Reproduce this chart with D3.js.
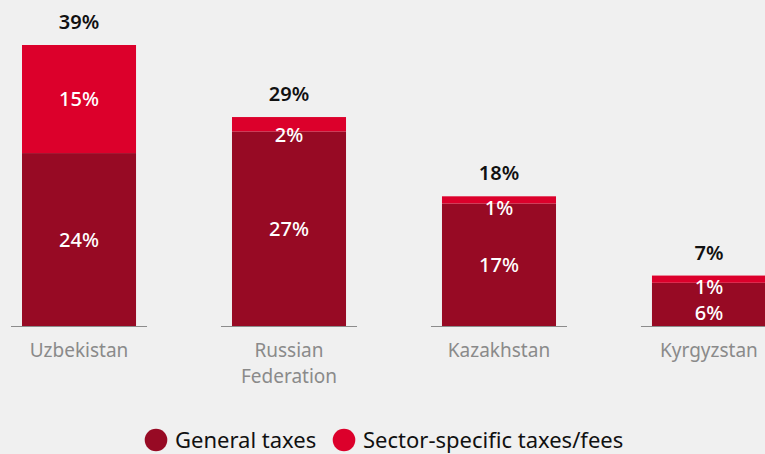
<!DOCTYPE html>
<html>
<head>
<meta charset="utf-8">
<script src="https://cdn.jsdelivr.net/npm/d3@7"></script>
<style>
  html, body { margin: 0; padding: 0; background: #f0f0f0; }
  svg { display: block; font-family: "Noto Sans", "Open Sans", sans-serif; }
</style>
</head>
<body>
<svg id="chart" width="765" height="454"></svg>
<script>
// Tax shares by country (percent)
const categories = ["Uzbekistan", "Russian Federation", "Kazakhstan", "Kyrgyzstan"];
const categoryLines = [["Uzbekistan"], ["Russian", "Federation"], ["Kazakhstan"], ["Kyrgyzstan"]];
const generalTaxes = [24, 27, 17, 6];
const sectorTaxes = [15, 2, 1, 1];
const totals = [39, 29, 18, 7];
const seriesNames = ["General taxes", "Sector-specific taxes/fees"];

const colors = { general: "#970a24", sector: "#dc002b" };

const svg = d3.select("#chart");
const baseY = 326;

const x = d3.scaleBand()
  .domain(categories)
  .range([-26, 814])
  .paddingInner(0.457)
  .paddingOuter(0.2286);

const y = d3.scaleLinear().domain([0, 39]).range([baseY, 45]);

const rows = categories.map((c, i) => ({
  cat: c, lines: categoryLines[i],
  general: generalTaxes[i], sector: sectorTaxes[i], total: totals[i]
}));

const stack = d3.stack().keys(["general", "sector"]);
const series = stack(rows);

const g = svg.append("g");

// stacked bars
g.selectAll("g.series")
  .data(series)
  .join("g")
  .attr("class", "series")
  .attr("fill", d => colors[d.key])
  .selectAll("rect")
  .data(d => d)
  .join("rect")
  .attr("x", d => x(d.data.cat))
  .attr("width", x.bandwidth())
  .attr("y", d => y(d[1]))
  .attr("height", d => y(d[0]) - y(d[1]));

// baseline segments under each bar
g.selectAll("line.base")
  .data(rows)
  .join("line")
  .attr("x1", d => x(d.cat) - 11)
  .attr("x2", d => x(d.cat) + x.bandwidth() + 11)
  .attr("y1", baseY + 0.5)
  .attr("y2", baseY + 0.5)
  .attr("stroke", "#8c8c8c")
  .attr("stroke-width", 1.2);

// value labels inside segments
const labelFont = 20;
rows.forEach(d => {
  const cx = x(d.cat) + x.bandwidth() / 2;
  const split = y(d.general);
  const top = y(d.general + d.sector);
  let sectorBase;
  if (split - top < 20) sectorBase = split + 11;
  else sectorBase = (split + top) / 2 + 7;
  let generalBase = (baseY + split) / 2 + 7;
  if (split - top < 20) generalBase = Math.max(generalBase, sectorBase + 26);

  g.append("text").attr("x", cx).attr("y", sectorBase)
    .attr("text-anchor", "middle").attr("fill", "#fff")
    .attr("font-size", labelFont).attr("font-weight", 500)
    .text(d.sector + "%");
  g.append("text").attr("x", cx).attr("y", generalBase)
    .attr("text-anchor", "middle").attr("fill", "#fff")
    .attr("font-size", labelFont).attr("font-weight", 500)
    .text(d.general + "%");

  // total above the bar
  g.append("text").attr("x", cx).attr("y", y(d.total) - 16)
    .attr("text-anchor", "middle").attr("fill", "#111")
    .attr("font-size", 20).attr("font-weight", 600)
    .text(d.total + "%");

  // category label
  const t = g.append("text").attr("x", cx).attr("y", 356.7)
    .attr("text-anchor", "middle").attr("fill", "#8a8a8a")
    .attr("font-size", 19);
  d.lines.forEach((ln, j) => {
    t.append("tspan").attr("x", cx).attr("dy", j === 0 ? 0 : 26).text(ln);
  });
});

// legend
const legendItems = [
  { name: seriesNames[0], color: colors.general, cx: 156, tx: 175 },
  { name: seriesNames[1], color: colors.sector, cx: 344, tx: 363 }
];
const lg = svg.append("g");
legendItems.forEach(it => {
  lg.append("circle").attr("cx", it.cx).attr("cy", 440).attr("r", 11.3).attr("fill", it.color);
  lg.append("text").attr("x", it.tx).attr("y", 448).attr("fill", "#111")
    .attr("font-size", 22).text(it.name);
});
</script>
</body>
</html>
